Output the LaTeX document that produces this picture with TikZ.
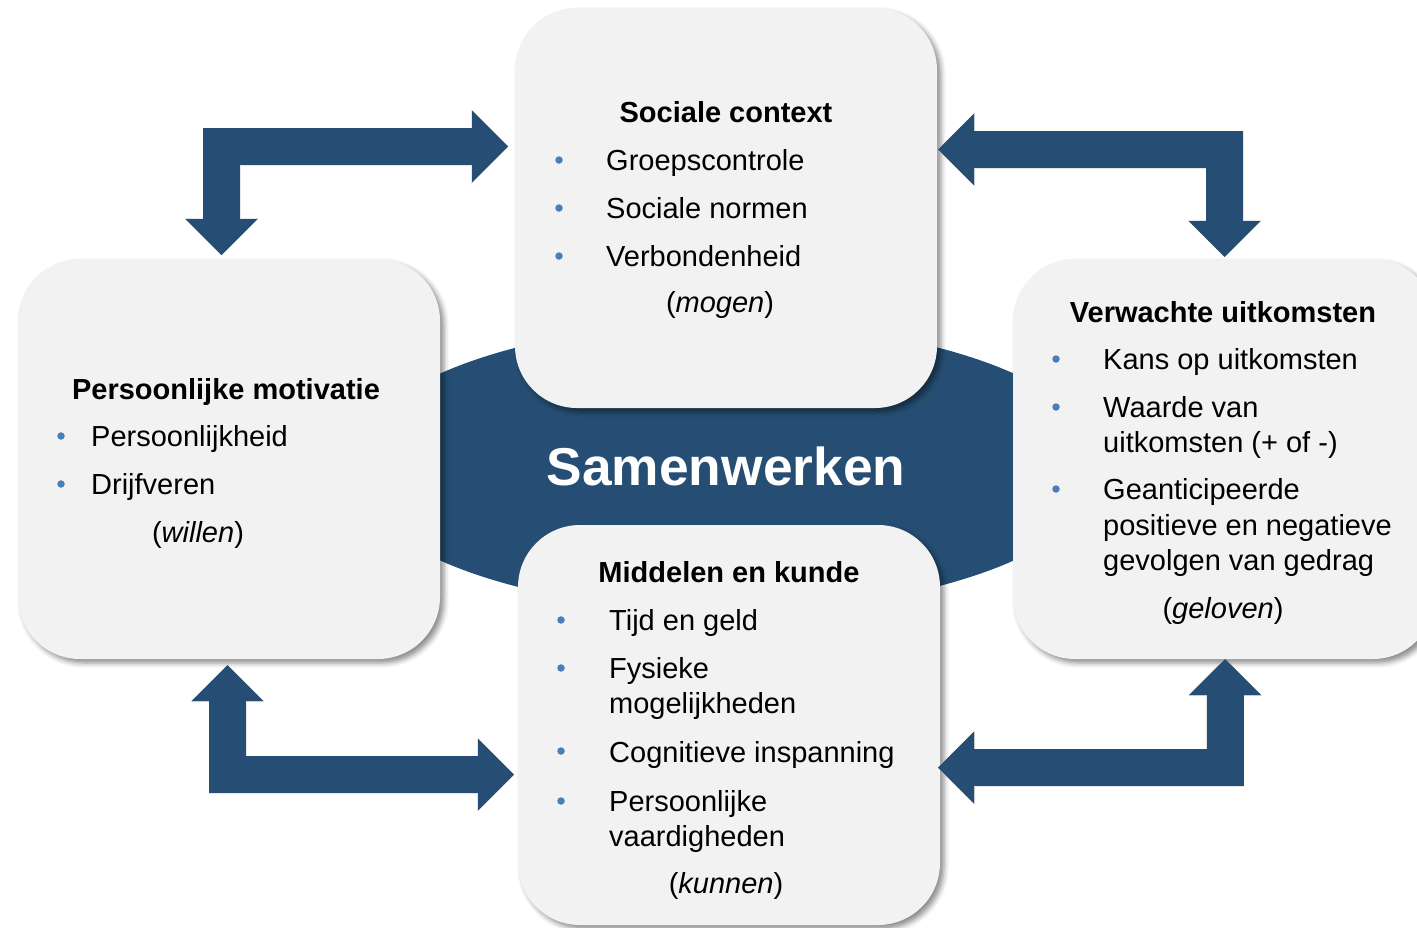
\documentclass[tikz,border=0pt]{standalone}
\usepackage{fontspec}
\setmainfont{Liberation Sans}
\usetikzlibrary{arrows.meta,shadows.blur,shapes.geometric}
\definecolor{navy}{RGB}{38,78,116}
\definecolor{bulletblue}{RGB}{74,126,187}
\definecolor{boxgray}{RGB}{242,242,242}
\newcommand\bodyfnt{\fontsize{29}{35}\selectfont}
\newcommand\bigfnt{\fontsize{53.3}{60}\selectfont\bfseries}
\tikzset{
  box/.style={rectangle, rounded corners=62pt, fill=boxgray, minimum width=422pt,
    minimum height=400pt, inner sep=0pt,
    blur shadow={shadow xshift=4pt, shadow yshift=-4pt, shadow blur radius=5pt, shadow opacity=45}},
  blockarrow/.style={draw=navy, line width=37pt, {Triangle[width=72pt, length=36pt, line width=0pt]}-{Triangle[width=72pt, length=36pt, line width=0pt]}},
  arrowshadowA/.style={draw=black!10, line width=38pt, {Triangle[width=74pt, length=37pt, line width=0pt]}-{Triangle[width=74pt, length=37pt, line width=0pt]}, xshift=4.5pt, yshift=-4.5pt},
  arrowshadowB/.style={draw=black!25, line width=37pt, {Triangle[width=72pt, length=36pt, line width=0pt]}-{Triangle[width=72pt, length=36pt, line width=0pt]}, xshift=3pt, yshift=-3pt},
  txt/.style={anchor=base west, inner sep=0pt, font=\bodyfnt},
  ctr/.style={anchor=base, inner sep=0pt, font=\bodyfnt},
  ttl/.style={anchor=base, inner sep=0pt, font=\bodyfnt\bfseries},
  bul/.style={circle, fill=bulletblue, minimum size=7.5pt, inner sep=0pt}
}
\begin{document}
\begin{tikzpicture}[x=1pt,y=-1pt]
\useasboundingbox (0,0) rectangle (1417,927);
\clip (0,0) rectangle (1417,927);

% central ellipse
\node[ellipse, fill=navy, minimum width=754pt, minimum height=288pt, inner sep=0pt] (core) at (727,467) {};

% boxes
\node[box] (top) at (726,208) {};
\node[box] (left) at (229,459) {};
\node[box] (right) at (1224,459) {};
\node[box] (bottom) at (729,725) {};

% arrow end points
\coordinate (a1s) at (221.5,255);
\coordinate (a1e) at (508,146.5);
\coordinate (a2s) at (938,149.5);
\coordinate (a2e) at (1224.5,257);
\coordinate (a3s) at (227.5,665);
\coordinate (a3e) at (514,774.5);
\coordinate (a4s) at (938,767.5);
\coordinate (a4e) at (1225,659);

% arrow shadows
\foreach \s in {arrowshadowA, arrowshadowB}{
  \draw[\s] (a1s) |- (a1e);
  \draw[\s] (a2s) -| (a2e);
  \draw[\s] (a3s) |- (a3e);
  \draw[\s] (a4s) -| (a4e);
}
% arrows
\draw[blockarrow] (a1s) |- (a1e);
\draw[blockarrow] (a2s) -| (a2e);
\draw[blockarrow] (a3s) |- (a3e);
\draw[blockarrow] (a4s) -| (a4e);

% centre text
\node[anchor=base, inner sep=0pt, font=\bigfnt, text=white] (core-t) at (726,485) {Samenwerken};

% top box
\node[ttl] (top-t) at (726,122) {Sociale context};
\node[bul] (top-b1) at (559,160) {};
\node[txt] (top-1) at (606,170) {Groepscontrole};
\node[bul] (top-b2) at (559,208) {};
\node[txt] (top-2) at (606,218) {Sociale normen};
\node[bul] (top-b3) at (559,256) {};
\node[txt] (top-3) at (606,266) {Verbondenheid};
\node[ctr] (top-m) at (720,312) {(\textit{mogen})};

% left box
\node[ttl] (left-t) at (226,399) {Persoonlijke motivatie};
\node[bul] (left-b1) at (61,436) {};
\node[txt] (left-1) at (91,446) {Persoonlijkheid};
\node[bul] (left-b2) at (61,484) {};
\node[txt] (left-2) at (91,494) {Drijfveren};
\node[ctr] (left-m) at (198,542) {(\textit{willen})};

% right box
\node[ttl] (right-t) at (1223,322) {Verwachte uitkomsten};
\node[bul] (right-b1) at (1056,359) {};
\node[txt] (right-1) at (1103,369) {Kans op uitkomsten};
\node[bul] (right-b2) at (1056,407) {};
\node[txt] (right-2a) at (1103,417) {Waarde van};
\node[txt] (right-2b) at (1103,452) {uitkomsten (+ of -)};
\node[bul] (right-b3) at (1056,489) {};
\node[txt] (right-3a) at (1103,499) {Geanticipeerde};
\node[txt] (right-3b) at (1103,535) {positieve en negatieve};
\node[txt] (right-3c) at (1103,570) {gevolgen van gedrag};
\node[ctr] (right-m) at (1223,618) {(\textit{geloven})};

% bottom box
\node[ttl] (bottom-t) at (729,582) {Middelen en kunde};
\node[bul] (bottom-b1) at (561,620) {};
\node[txt] (bottom-1) at (609,630) {Tijd en geld};
\node[bul] (bottom-b2) at (561,668) {};
\node[txt] (bottom-2a) at (609,678) {Fysieke};
\node[txt] (bottom-2b) at (609,713) {mogelijkheden};
\node[bul] (bottom-b3) at (561,751) {};
\node[txt] (bottom-3) at (609,762) {Cognitieve inspanning};
\node[bul] (bottom-b4) at (561,801) {};
\node[txt] (bottom-4a) at (609,811) {Persoonlijke};
\node[txt] (bottom-4b) at (609,846) {vaardigheden};
\node[ctr] (bottom-m) at (726,893) {(\textit{kunnen})};
\end{tikzpicture}
\end{document}
